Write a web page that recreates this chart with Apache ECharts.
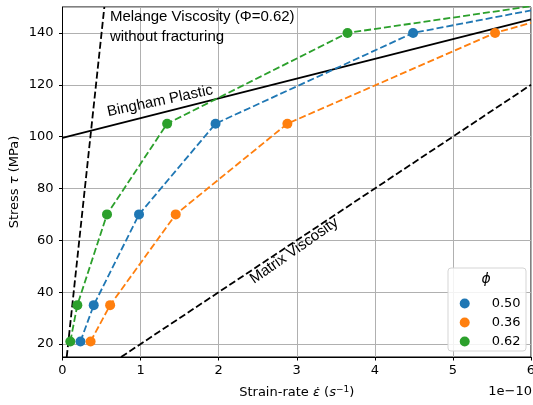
<!DOCTYPE html>
<html>
<head>
<meta charset="utf-8">
<script src="https://cdn.jsdelivr.net/npm/echarts@6/dist/echarts.min.js"></script>
<style>
html,body{margin:0;padding:0;background:#fff;}
#c{width:533px;height:405px;}
</style>
</head>
<body>
<div id="c"></div>
<script>
// ---- data ----
const phiLabels = ['0.50', '0.36', '0.62'];
const stressLevels = [21, 35, 70, 105, 140];          // MPa
const rate050 = [0.23, 0.40, 0.98, 1.96, 4.49];         // x 1e-10 s^-1
const rate036 = [0.36, 0.61, 1.45, 2.88, 5.54];
const rate062 = [0.10, 0.19, 0.57, 1.34, 3.65];
// where each dashed curve leaves the frame at the right edge (x = 6)
const edgeRate = 6;
const edgeStress = [148.7, 143.9, 150.3];
const binghamLine = [[0, 99.5], [6, 145.2]];
const matrixLine = [[0.75, 15], [6, 120]];
const melangeLine = [[0.054, 15], [0.536, 150]];
const xTicks = [0, 1, 2, 3, 4, 5, 6];
const yTicks = [20, 40, 60, 80, 100, 120, 140];

const colors = ['#1f77b4', '#ff7f0e', '#2ca02c'];
const rates = [rate050, rate036, rate062];
const DASH = [7, 3];

function curve(i) {
  const pts = rates[i].map((r, k) => [r, stressLevels[k]]);
  pts.push({value: [edgeRate, edgeStress[i]], symbolSize: 0, itemStyle: {opacity: 0}});
  return {
    name: phiLabels[i], type: 'line', data: pts, z: 3,
    symbol: 'circle', symbolSize: 10, showSymbol: true,
    itemStyle: {color: colors[i]},
    lineStyle: {color: colors[i], width: 1.8, type: DASH},
    emphasis: {disabled: true}, animation: false
  };
}
function blackLine(name, data, dashed) {
  return {
    name: name, type: 'line', data: data, symbol: 'none', z: 2,
    lineStyle: {color: '#000', width: 1.8, type: dashed ? DASH : 'solid'},
    emphasis: {disabled: true}, animation: false
  };
}

const chart = echarts.init(document.getElementById('c'), null, {renderer: 'canvas'});
const tickFont = {fontFamily: 'DejaVu Sans', fontSize: 13, color: '#000'};
const option = {
  backgroundColor: '#fff',
  animation: false,
  grid: {left: 62.5, right: 2, top: 7, bottom: 48, show: true, borderColor: '#000', borderWidth: 1,
         backgroundColor: 'transparent', containLabel: false, outerBoundsMode: 'none'},
  xAxis: {
    type: 'value', min: 0, max: 6, interval: 1,
    axisLine: {show: true, lineStyle: {color: '#000', width: 1}},
    axisTick: {show: true, length: 3.5, lineStyle: {color: '#000'}},
    axisLabel: Object.assign({margin: 7, formatter: v => xTicks.includes(v) ? String(v) : ''}, tickFont),
    splitLine: {show: true, lineStyle: {color: '#b0b0b0', width: 1}},
    name: '{t|Strain-rate }{i|ε̇}{t| (}{i|s}{sup|−1}{t|)}',
    nameLocation: 'middle', nameGap: 28, nameMoveOverlap: false,
    nameTextStyle: {rich: {
      t: {fontFamily: 'DejaVu Sans', fontSize: 13, color: '#000'},
      i: {fontFamily: 'DejaVu Sans', fontStyle: 'italic', fontSize: 13, color: '#000'},
      sup: {fontFamily: 'DejaVu Sans', fontSize: 9, color: '#000', verticalAlign: 'top', padding: [0, 0, 6, 0]}
    }}
  },
  yAxis: {
    type: 'value', min: 15, max: 150, splitNumber: 7,
    axisLine: {show: true, lineStyle: {color: '#000', width: 1}},
    axisTick: {show: true, length: 3.5, lineStyle: {color: '#000'}},
    axisLabel: Object.assign({margin: 9, showMinLabel: false, showMaxLabel: false, formatter: v => yTicks.includes(v) ? String(v) : ''}, tickFont),
    splitLine: {show: true, lineStyle: {color: '#b0b0b0', width: 1}},
    name: '{t|Stress }{i|τ}{t| (MPa)}',
    nameLocation: 'middle', nameGap: 41, nameMoveOverlap: false,
    nameTextStyle: {rich: {
      t: {fontFamily: 'DejaVu Sans', fontSize: 13, color: '#000'},
      i: {fontFamily: 'DejaVu Sans', fontStyle: 'italic', fontSize: 13, color: '#000'}
    }}
  },
  legend: {
    data: phiLabels, orient: 'vertical', left: 454.7, top: 292,
    icon: 'circle', itemWidth: 26, itemHeight: 10, itemGap: 6, z: 10,
    selectedMode: false,
    textStyle: {fontFamily: 'DejaVu Sans', fontSize: 13, color: '#000', padding: [0, 0, 0, 9]}
  },
  series: [
    blackLine('bingham', binghamLine, false),
    blackLine('matrix', matrixLine, true),
    blackLine('melange', melangeLine, true),
    curve(0), curve(1), curve(2)
  ]
};
chart.setOption(option);

// annotations anchored in data coordinates
const P = (x, y) => chart.convertToPixel({gridIndex: 0}, [x, y]);
const annFont = '15px "Liberation Sans", Arial, sans-serif';
const pMel = P(0.607, 142.2);
const pBing = P(1.249, 113.7);
const pMat = P(2.967, 55.95);
chart.setOption({
  graphic: [
    {type: 'text', x: pMel[0], y: pMel[1], z: 20,
     style: {text: 'Melange Viscosity (Φ=0.62)\nwithout fracturing', font: annFont, fill: '#000', align: 'left', verticalAlign: 'middle', lineHeight: 20}},
    {type: 'text', x: pBing[0], y: pBing[1], rotation: 12 * Math.PI / 180, z: 20,
     style: {text: 'Bingham Plastic', font: annFont, fill: '#000', align: 'center', verticalAlign: 'middle'}},
    {type: 'text', x: pMat[0], y: pMat[1], rotation: 35 * Math.PI / 180, z: 20,
     style: {text: 'Matrix Viscosity', font: annFont, fill: '#000', align: 'center', verticalAlign: 'middle'}},
    {type: 'rect', z: 8, shape: {x: 448, y: 268, width: 78, height: 83, r: 3},
     style: {fill: 'rgba(255,255,255,0.85)', stroke: '#d5d5d5', lineWidth: 1}},
    {type: 'text', z: 12, x: 486, y: 279,
     style: {text: 'ϕ', font: 'italic 14px "DejaVu Sans"', fill: '#000', align: 'center', verticalAlign: 'middle'}},
    {type: 'text', z: 12, x: 532, y: 391.5,
     style: {text: '1e−10', font: '13px "DejaVu Sans"', fill: '#000', align: 'right', verticalAlign: 'middle'}}
  ]
});
</script>
</body>
</html>
